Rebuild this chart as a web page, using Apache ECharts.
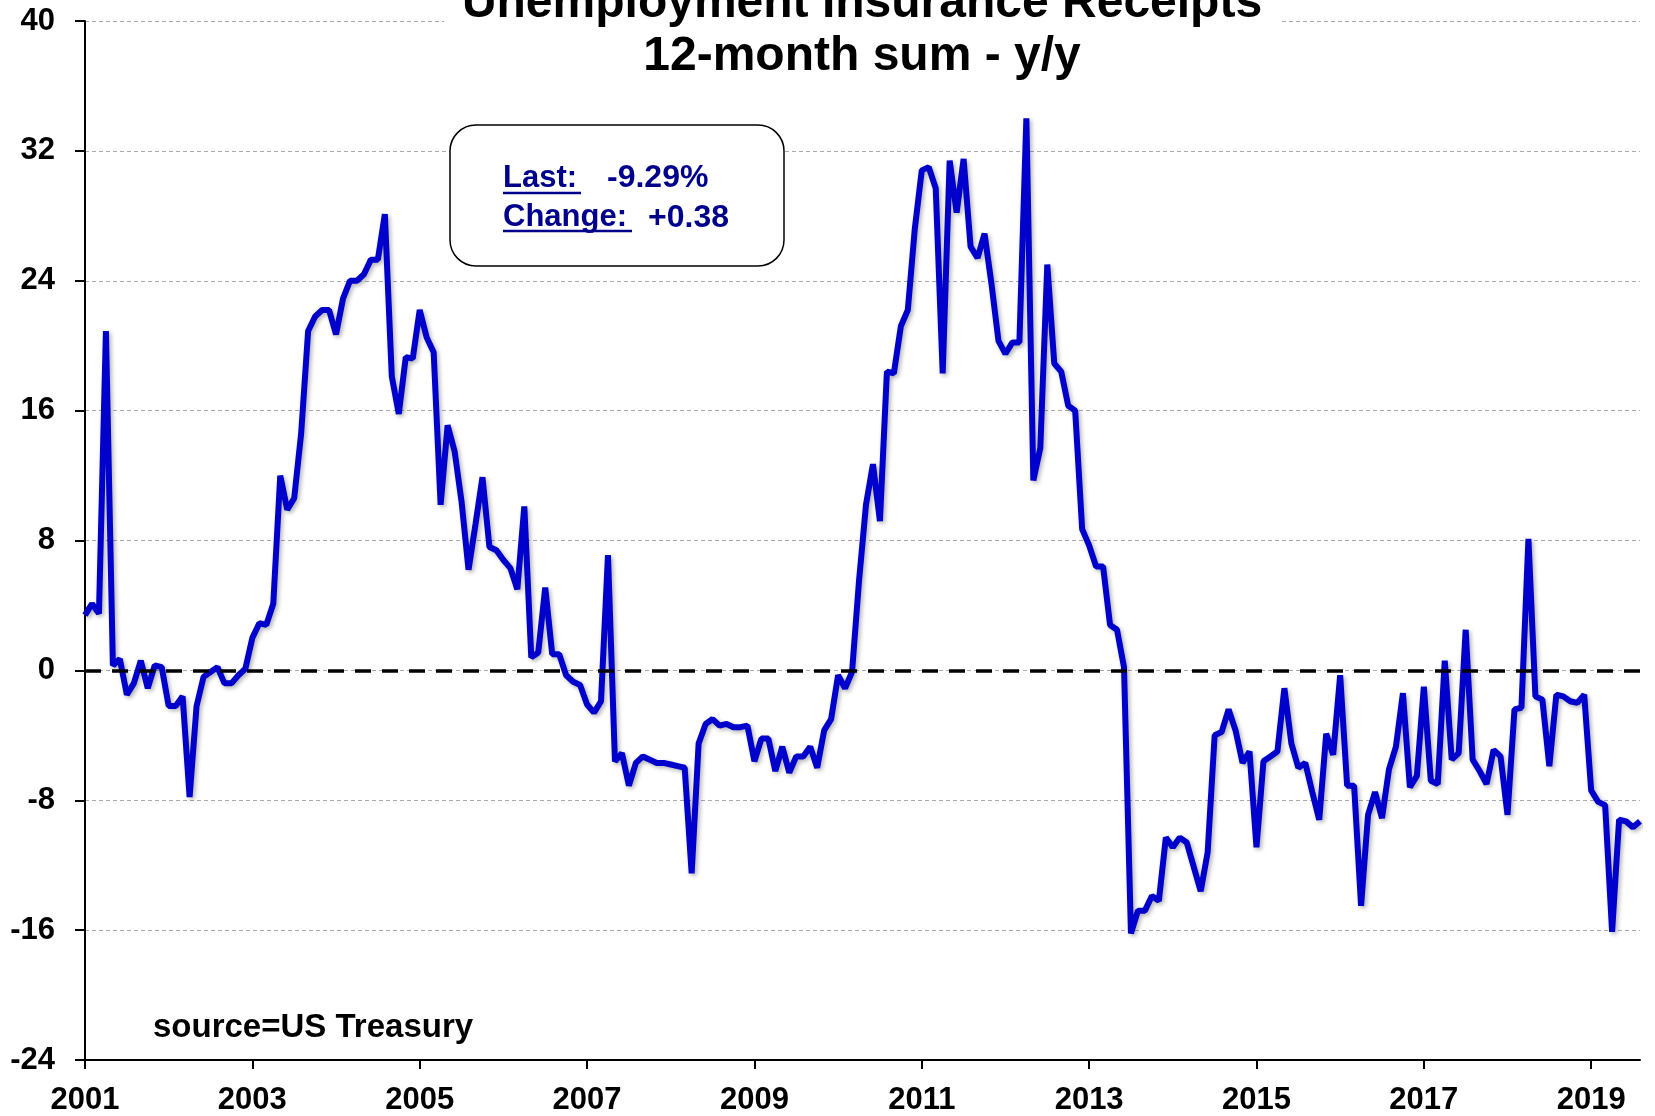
<!DOCTYPE html>
<html>
<head>
<meta charset="utf-8">
<title>Unemployment Insurance Receipts</title>
<script src="https://cdn.jsdelivr.net/npm/echarts@6/dist/echarts.min.js"></script>
<style>
  html, body { margin: 0; padding: 0; background: #fff; }
  #chart { width: 1655px; height: 1116px; }
</style>
</head>
<body>
<div id="chart"></div>
<script>
// monthly, 2001-01 .. 2019-08
var startYear = 2001
var monthCount = 224
// 12-month sum, y/y %  (one row per year)
var receiptsYoY = [
  3.4, 4.1, 3.5, 20.9, 0.3, 0.7, -1.5, -0.8, 0.6, -1.1, 0.3, 0.2,
  -2.2, -2.2, -1.6, -7.8, -2.2, -0.4, -0.1, 0.2, -0.8, -0.8, -0.3, 0.1,
  2.0, 2.9, 2.8, 4.1, 12.0, 9.9, 10.6, 14.6, 20.9, 21.8, 22.2, 22.2,
  20.7, 22.9, 24.0, 24.0, 24.4, 25.3, 25.3, 28.1, 18.1, 15.8, 19.3, 19.2,
  22.2, 20.5, 19.6, 10.2, 15.1, 13.5, 10.4, 6.2, 9.0, 11.9, 7.6, 7.4,
  6.8, 6.3, 5.0, 10.1, 0.8, 1.1, 5.1, 1.0, 1.0, -0.3, -0.7, -0.9,
  -2.1, -2.6, -1.9, 7.1, -5.6, -5.1, -7.1, -5.7, -5.3, -5.5, -5.7, -5.7,
  -5.8, -5.9, -6.0, -12.5, -4.5, -3.3, -3.0, -3.4, -3.3, -3.5, -3.5, -3.4,
  -5.6, -4.2, -4.2, -6.2, -4.7, -6.3, -5.3, -5.3, -4.7, -6.0, -3.7, -3.0,
  -0.3, -1.1, -0.1, 5.5, 10.2, 12.7, 9.2, 18.4, 18.3, 21.2, 22.2, 27.2,
  30.8, 31.0, 29.7, 18.3, 31.4, 28.2, 31.5, 26.1, 25.4, 26.9, 23.8, 20.3,
  19.5, 20.2, 20.2, 34.0, 11.7, 13.7, 25.0, 18.9, 18.4, 16.3, 16.0, 8.7,
  7.7, 6.4, 6.4, 2.8, 2.5, 0.2, -16.2, -14.8, -14.8, -13.9, -14.2, -10.3,
  -10.9, -10.3, -10.6, -12.1, -13.6, -11.2, -4.0, -3.8, -2.4, -3.7, -5.7, -5.0,
  -10.9, -5.6, -5.3, -5.0, -1.1, -4.5, -6.0, -5.7, -7.5, -9.2, -3.9, -5.2,
  -0.3, -7.1, -7.1, -14.5, -8.9, -7.5, -9.1, -6.1, -4.7, -1.4, -7.2, -6.5,
  -1.0, -6.8, -7.0, 0.6, -5.5, -5.1, 2.5, -5.5, -6.2, -7.0, -4.9, -5.3,
  -8.9, -2.4, -2.3, 8.1, -1.6, -1.8, -5.9, -1.5, -1.6, -1.9, -2.0, -1.5,
  -7.4, -8.1, -8.3, -16.1, -9.2, -9.3, -9.67, -9.29
]
var yMin = -24
var yMax = 40
var yStep = 8
var lastText = '-9.29%'
var changeText = '+0.38'

var months = []
for (var i = 0; i < monthCount; i++) {
  var yr = startYear + Math.floor(i / 12)
  var mo = (i % 12) + 1
  months.push(yr + '-' + (mo < 10 ? '0' + mo : mo))
}

// label / tick on january of odd years
function oddJan (idx) {
  return idx % 24 === 0
}

var FONT = '"Liberation Sans", Arial, sans-serif'
var NAVY = '#00008c'

var chart = echarts.init(document.getElementById('chart'))
chart.setOption({
  animation: false,
  backgroundColor: '#fff',
  grid: { left: 85, right: 15, top: 21, bottom: 55, containLabel: false },
  xAxis: {
    type: 'category',
    data: months,
    boundaryGap: false,
    axisLine: { onZero: false, lineStyle: { color: '#000', width: 2 } },
    axisTick: { show: true, interval: oddJan, length: 9, lineStyle: { color: '#000', width: 2 } },
    axisLabel: {
      interval: oddJan,
      margin: 25,
      color: '#000',
      fontFamily: FONT,
      fontWeight: 'bold',
      fontSize: 31,
      formatter: function (v) { return v.slice(0, 4) }
    },
    splitLine: { show: false }
  },
  yAxis: {
    type: 'value',
    min: yMin,
    max: yMax,
    interval: yStep,
    axisLine: { show: true, lineStyle: { color: '#000', width: 2 } },
    axisTick: { show: true, length: 10, lineStyle: { color: '#000', width: 2 } },
    axisLabel: {
      margin: 30,
      color: '#000',
      fontFamily: FONT,
      fontWeight: 'bold',
      fontSize: 31
    },
    splitLine: { show: true, lineStyle: { color: '#aaaaaa', width: 1, type: [4, 3] } }
  },
  series: [
    {
      name: 'receipts',
      type: 'line',
      data: receiptsYoY,
      showSymbol: false,
      symbol: 'none',
      lineStyle: {
        color: '#0000cc',
        width: 6,
        shadowColor: 'rgba(0,0,0,0.3)',
        shadowBlur: 4,
        shadowOffsetX: 2,
        shadowOffsetY: 2
      },
      z: 3,
      markLine: {
        silent: true,
        symbol: ['none', 'none'],
        label: { show: false },
        lineStyle: { color: '#000', width: 3.5, type: [16, 11] },
        data: [{ yAxis: 0 }]
      }
    }
  ],
  graphic: [
    // title (white backing hides the top gridline)
    { type: 'rect', z: 100, shape: { x: 444, y: 0, width: 836, height: 30 }, style: { fill: '#fff' } },
    { type: 'text', z: 101, x: 862, y: 4,
      style: { text: 'Unemployment Insurance Receipts', font: 'bold 48px ' + FONT, fill: '#000',
        align: 'center', verticalAlign: 'middle', textAlign: 'center', textVerticalAlign: 'middle' } },
    { type: 'text', z: 101, x: 862, y: 57,
      style: { text: '12-month sum - y/y', font: 'bold 48px ' + FONT, fill: '#000',
        align: 'center', verticalAlign: 'middle', textAlign: 'center', textVerticalAlign: 'middle' } },
    // last / change box
    { type: 'rect', z: 100, shape: { x: 450, y: 125, width: 334, height: 141, r: 26 },
      style: { fill: '#fff', stroke: '#000', lineWidth: 1.5 } },
    { type: 'text', z: 101, x: 503, y: 178,
      style: { text: 'Last:', font: 'bold 31px ' + FONT, fill: NAVY, verticalAlign: 'middle', textVerticalAlign: 'middle' } },
    { type: 'line', z: 101, shape: { x1: 503, y1: 193, x2: 581, y2: 193 }, style: { stroke: NAVY, lineWidth: 2.5 } },
    { type: 'text', z: 101, x: 607, y: 178,
      style: { text: lastText, font: 'bold 32px ' + FONT, fill: NAVY, verticalAlign: 'middle', textVerticalAlign: 'middle' } },
    { type: 'text', z: 101, x: 503, y: 217,
      style: { text: 'Change:', font: 'bold 31px ' + FONT, fill: NAVY, verticalAlign: 'middle', textVerticalAlign: 'middle' } },
    { type: 'line', z: 101, shape: { x1: 503, y1: 231, x2: 632, y2: 231 }, style: { stroke: NAVY, lineWidth: 2.5 } },
    { type: 'text', z: 101, x: 648, y: 218,
      style: { text: changeText, font: 'bold 32px ' + FONT, fill: NAVY, verticalAlign: 'middle', textVerticalAlign: 'middle' } },
    // source note
    { type: 'text', z: 101, x: 153, y: 1028,
      style: { text: 'source=US Treasury', font: 'bold 33px ' + FONT, fill: '#000', verticalAlign: 'middle', textVerticalAlign: 'middle' } }
  ]
})
</script>
</body>
</html>
